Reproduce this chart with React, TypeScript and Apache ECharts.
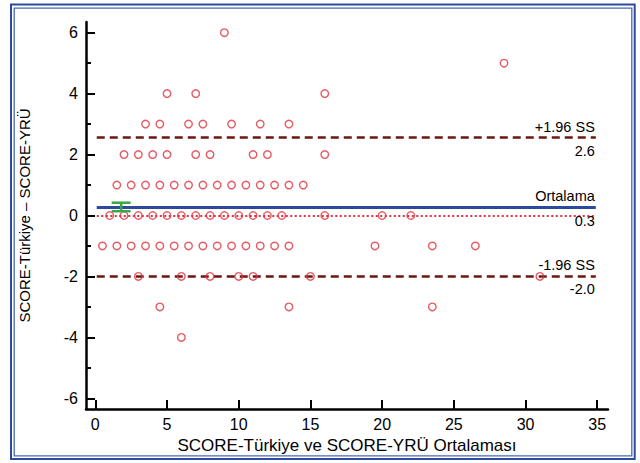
import React, { useEffect, useRef } from "react";
import * as echarts from "echarts";

// Bland-Altman data: differences (SCORE-Türkiye – SCORE-YRÜ) by level, with their averages
const avgAtDiffPlus6 = [9];
const avgAtDiffPlus5 = [28.5];
const avgAtDiffPlus4 = [5, 7, 16];
const avgAtDiffPlus3 = [3.5, 4.5, 6.5, 7.5, 9.5, 11.5, 13.5];
const avgAtDiffPlus2 = [2, 3, 4, 5, 7, 8, 11, 12, 16];
const avgAtDiffPlus1 = [1.5, 2.5, 3.5, 4.5, 5.5, 6.5, 7.5, 8.5, 9.5, 10.5, 11.5, 12.5, 13.5, 14.5];
const avgAtDiff0 = [1, 2, 3, 4, 5, 6, 7, 8, 9, 10, 11, 12, 13, 16, 20, 22];
const avgAtDiffMinus1 = [0.5, 1.5, 2.5, 3.5, 4.5, 5.5, 6.5, 7.5, 8.5, 9.5, 10.5, 11.5, 12.5, 13.5, 19.5, 23.5, 26.5];
const avgAtDiffMinus2 = [3, 6, 8, 10, 11, 15, 31];
const avgAtDiffMinus3 = [4.5, 13.5, 23.5];
const avgAtDiffMinus4 = [6];

const diffLevels = [6, 5, 4, 3, 2, 1, 0, -1, -2, -3, -4];
const avgByLevel = [
  avgAtDiffPlus6, avgAtDiffPlus5, avgAtDiffPlus4, avgAtDiffPlus3, avgAtDiffPlus2,
  avgAtDiffPlus1, avgAtDiff0, avgAtDiffMinus1, avgAtDiffMinus2, avgAtDiffMinus3, avgAtDiffMinus4,
];

// Statistics
const meanDiff = 0.28;
const upperLoA = 2.56;
const lowerLoA = -1.99;
const meanCI = [0.14, 0.42];
const ciAt = 1.8;
const lineFrom = 0.1;
const lineTo = 34.9;

const upperLabel = "+1.96 SS";
const upperValueLabel = "2.6";
const meanLabel = "Ortalama";
const meanValueLabel = "0.3";
const lowerLabel = "-1.96 SS";
const lowerValueLabel = "-2.0";

// Axes
const xTicks = [0, 5, 10, 15, 20, 25, 30, 35];
const yTicks = [-6, -4, -2, 0, 2, 4, 6];
const yMinorTicks = [-5, -3, -1, 1, 3, 5];
const xName = "SCORE-Türkiye ve SCORE-YRÜ Ortalaması";
const yName = "SCORE-Türkiye – SCORE-YRÜ";

const FF = '"Liberation Sans", Arial, Helvetica, sans-serif';

export default function App() {
  const ref = useRef<HTMLDivElement>(null);
  useEffect(() => {
    if (!ref.current) return;
    const chart = echarts.init(ref.current, null, { renderer: "svg" });

    const points: number[][] = [];
    diffLevels.forEach((d, i) => avgByLevel[i].forEach((a) => points.push([a, d])));

    const lblStyle = { color: "#000", fontSize: 14.5, fontFamily: FF };
    const hidden = { color: "rgba(0,0,0,0)", width: 0, type: "solid" };
    const pairLines = (
      y: number,
      lineStyle: any,
      topText: string,
      bottomText: string,
      topDist: number,
      bottomDist: number
    ) => {
      const top = { show: true, position: "insideEndTop", formatter: topText, distance: [1, topDist], ...lblStyle };
      const bot = { show: true, position: "insideEndBottom", formatter: bottomText, distance: [1, bottomDist], ...lblStyle };
      return [
        [
          { coord: [lineFrom, y], lineStyle, label: top },
          { coord: [lineTo, y], lineStyle, label: top },
        ],
        [
          { coord: [lineFrom, y + 0.0001], lineStyle: hidden, label: bot },
          { coord: [lineTo, y + 0.0001], lineStyle: hidden, label: bot },
        ],
      ];
    };

    const dashed = { color: "#6b1712", width: 2.6, type: [8, 5] };
    const solidBlue = { color: "#2b4a9b", width: 2.8, type: "solid" };
    const dottedRed = { color: "#e0323c", width: 2, type: [2, 2.5] };

    const option: any = {
      animation: false,
      backgroundColor: "#fff",
      textStyle: { fontFamily: FF },
      grid: { left: 86, right: 32, top: 22, bottom: 54, containLabel: false, outerBoundsMode: "none" },
      xAxis: {
        type: "value",
        min: -0.65,
        max: 35.75,
        name: xName,
        nameLocation: "middle",
        nameGap: 21,
        nameTextStyle: { fontSize: 17, color: "#000", fontFamily: FF },
        axisLine: { show: true, onZero: false, lineStyle: { color: "#000", width: 2.5 } },
        axisTick: { show: true, inside: true, length: 9, customValues: xTicks, lineStyle: { color: "#000", width: 2 } },
        axisLabel: { show: true, customValues: xTicks, fontSize: 16, color: "#000", margin: 7, fontFamily: FF },
        splitLine: { show: false },
      },
      yAxis: [
        {
          type: "value",
          min: -6.35,
          max: 6.35,
          name: yName,
          nameLocation: "middle",
          nameGap: 54,
          nameRotate: 90,
          nameTextStyle: { fontSize: 15, color: "#000", fontFamily: FF },
          axisLine: { show: true, onZero: false, lineStyle: { color: "#000", width: 2.5 } },
          axisTick: { show: true, inside: true, length: 9, customValues: yTicks, lineStyle: { color: "#000", width: 2 } },
          axisLabel: { show: true, customValues: yTicks, fontSize: 16, color: "#000", margin: 8, fontFamily: FF },
          splitLine: { show: false },
        },
        {
          type: "value",
          min: -6.35,
          max: 6.35,
          position: "left",
          offset: 0,
          axisLine: { show: false, onZero: false },
          axisTick: { show: true, inside: true, length: 5, customValues: yMinorTicks, lineStyle: { color: "#000", width: 2 } },
          axisLabel: { show: false },
          splitLine: { show: false },
        },
      ],
      series: [
        {
          type: "scatter",
          data: points,
          symbol: "circle",
          symbolSize: 7.5,
          itemStyle: { color: "rgba(0,0,0,0)", borderColor: "#e0323c", borderWidth: 1.4 },
          z: 3,
          silent: true,
          markLine: {
            silent: true,
            symbol: "none",
            animation: false,
            z: 2,
            data: [
              ...pairLines(upperLoA, dashed, upperLabel, upperValueLabel, 2.5, 6),
              ...pairLines(lowerLoA, dashed, lowerLabel, lowerValueLabel, 4, 5.5),
              ...pairLines(meanDiff, solidBlue, meanLabel, meanValueLabel, 3.5, 7),
              [
                { coord: [lineFrom, 0], lineStyle: dottedRed, label: { show: false } },
                { coord: [lineTo, 0], lineStyle: dottedRed, label: { show: false } },
              ],
            ],
          },
        },
        {
          type: "custom",
          silent: true,
          z: 4,
          data: [[ciAt, meanCI[0], meanCI[1]]],
          renderItem: (params: any, api: any) => {
            const x = api.value(0);
            const lo = api.coord([x, api.value(1)]);
            const hi = api.coord([x, api.value(2)]);
            const hw = 9.5;
            const st = { stroke: "#3aa845", lineWidth: 2.5 };
            return {
              type: "group",
              children: [
                { type: "line", shape: { x1: lo[0], y1: lo[1], x2: hi[0], y2: hi[1] }, style: st },
                { type: "line", shape: { x1: lo[0] - hw, y1: lo[1], x2: lo[0] + hw, y2: lo[1] }, style: st },
                { type: "line", shape: { x1: hi[0] - hw, y1: hi[1], x2: hi[0] + hw, y2: hi[1] }, style: st },
              ],
            };
          },
        },
      ],
      graphic: [
        { type: "rect", shape: { x: 11, y: 4.5, width: 623.7, height: 454.5 }, style: { fill: "none", stroke: "#2d4a9c", lineWidth: 2 }, silent: true },
        { type: "rect", shape: { x: 14.2, y: 8.2, width: 617.6, height: 447.6 }, style: { fill: "none", stroke: "#4a68b4", lineWidth: 1.3 }, silent: true },
      ],
    };

    chart.setOption(option);
    return () => chart.dispose();
  }, []);

  return (
    <div
      ref={ref}
      style={{ position: "fixed", left: 0, top: 0, width: 640, height: 463, background: "#fff" }}
    />
  );
}
